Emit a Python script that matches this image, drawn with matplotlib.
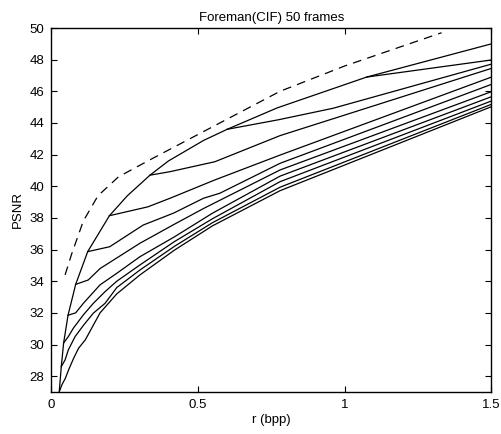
import matplotlib
matplotlib.use("Agg")
import matplotlib.pyplot as plt

plt.rcParams['font.family'] = ['Liberation Sans', 'DejaVu Sans']

# upper envelope of all operating points
env_r = [0.028, 0.035, 0.043, 0.058, 0.084, 0.125, 0.199, 0.26, 0.337, 0.40, 0.52, 0.60, 0.77, 1.075, 1.5]
env_psnr = [27.0, 28.6, 30.1, 31.85, 33.8, 35.87, 38.14, 39.4, 40.7, 41.6, 42.9, 43.6, 44.95, 46.9, 49.0]

# curves leaving the envelope at different starting rates
low_r = [0.028, 0.037, 0.049, 0.06, 0.077, 0.094, 0.117, 0.167, 0.224, 0.303, 0.42, 0.55, 0.78, 1.5]
low_psnr = [27.0, 27.45, 27.87, 28.4, 29.13, 29.77, 30.3, 32.0, 33.2, 34.4, 35.96, 37.5, 39.72, 45.03]

b1_r = [0.035, 0.048, 0.059, 0.082, 0.11, 0.144, 0.184, 0.224, 0.303, 0.42, 0.55, 0.78, 1.5]
b1_psnr = [28.6, 29.03, 29.66, 30.5, 31.2, 31.98, 32.6, 33.6, 34.71, 36.2, 37.7, 39.94, 45.18]

b2_r = [0.043, 0.059, 0.076, 0.11, 0.144, 0.184, 0.224, 0.303, 0.42, 0.55, 0.78, 1.5]
b2_psnr = [30.1, 30.5, 31.03, 31.87, 32.6, 33.34, 34.0, 35.03, 36.5, 37.95, 40.29, 45.39]

b3_r = [0.058, 0.084, 0.11, 0.167, 0.224, 0.303, 0.42, 0.55, 0.78, 1.5]
b3_psnr = [31.85, 32.0, 32.6, 33.77, 34.5, 35.55, 36.8, 38.3, 40.64, 45.66]

b4_r = [0.084, 0.127, 0.167, 0.303, 0.42, 0.52, 0.78, 1.5]
b4_psnr = [33.8, 34.08, 34.8, 36.4, 37.6, 38.6, 41.03, 45.98]

b5_r = [0.125, 0.2, 0.314, 0.417, 0.519, 0.575, 0.78, 1.5]
b5_psnr = [35.87, 36.18, 37.55, 38.3, 39.24, 39.56, 41.45, 46.44]

b6_r = [0.199, 0.33, 0.405, 0.558, 0.78, 1.5]
b6_psnr = [38.14, 38.7, 39.24, 40.4, 41.97, 46.9]

b7_r = [0.337, 0.405, 0.558, 0.78, 1.5]
b7_psnr = [40.7, 40.92, 41.55, 43.2, 47.45]

b8_r = [0.60, 0.774, 0.961, 1.5]
b8_psnr = [43.6, 44.2, 44.93, 47.72]

b9_r = [1.075, 1.5]
b9_psnr = [46.9, 47.98]

# bound (dashed)
bound_r = [0.048, 0.07, 0.11, 0.16, 0.23, 0.35, 0.575, 0.78, 1.0, 1.33]
bound_psnr = [34.4, 35.7, 37.8, 39.4, 40.6, 41.8, 44.0, 46.0, 47.6, 49.7]

branches = [(low_r, low_psnr), (b1_r, b1_psnr), (b2_r, b2_psnr), (b3_r, b3_psnr),
            (b4_r, b4_psnr), (b5_r, b5_psnr), (b6_r, b6_psnr), (b7_r, b7_psnr),
            (b8_r, b8_psnr), (b9_r, b9_psnr)]

fig = plt.figure(figsize=(5.02, 4.34), dpi=100)
ax = fig.add_axes([51 / 502, 1 - 392 / 434, 440.5 / 502, 364 / 434])

ax.plot(env_r, env_psnr, color='k', lw=0.9)
for r, p in branches:
    ax.plot(r, p, color='k', lw=0.9)
ax.plot(bound_r, bound_psnr, color='k', lw=0.9, linestyle=(0, (7, 5)))

ax.set_xlim(0, 1.5)
ax.set_ylim(27, 50)
ax.set_xticks([0, 0.5, 1, 1.5])
ax.set_xticklabels(['0', '0.5', '1', '1.5'])
ax.set_yticks(range(28, 51, 2))
ax.tick_params(direction='in', top=True, right=True, length=4, width=0.8, labelsize=9.5, pad=5)
for s in ax.spines.values():
    s.set_linewidth(1.0)

ax.set_title('Foreman(CIF) 50 frames', fontsize=9.5, pad=5)
ax.set_xlabel('r (bpp)', fontsize=9.5, labelpad=2)
ax.set_ylabel('PSNR', fontsize=9.5, labelpad=4)

fig.savefig('out.png', dpi=100)
